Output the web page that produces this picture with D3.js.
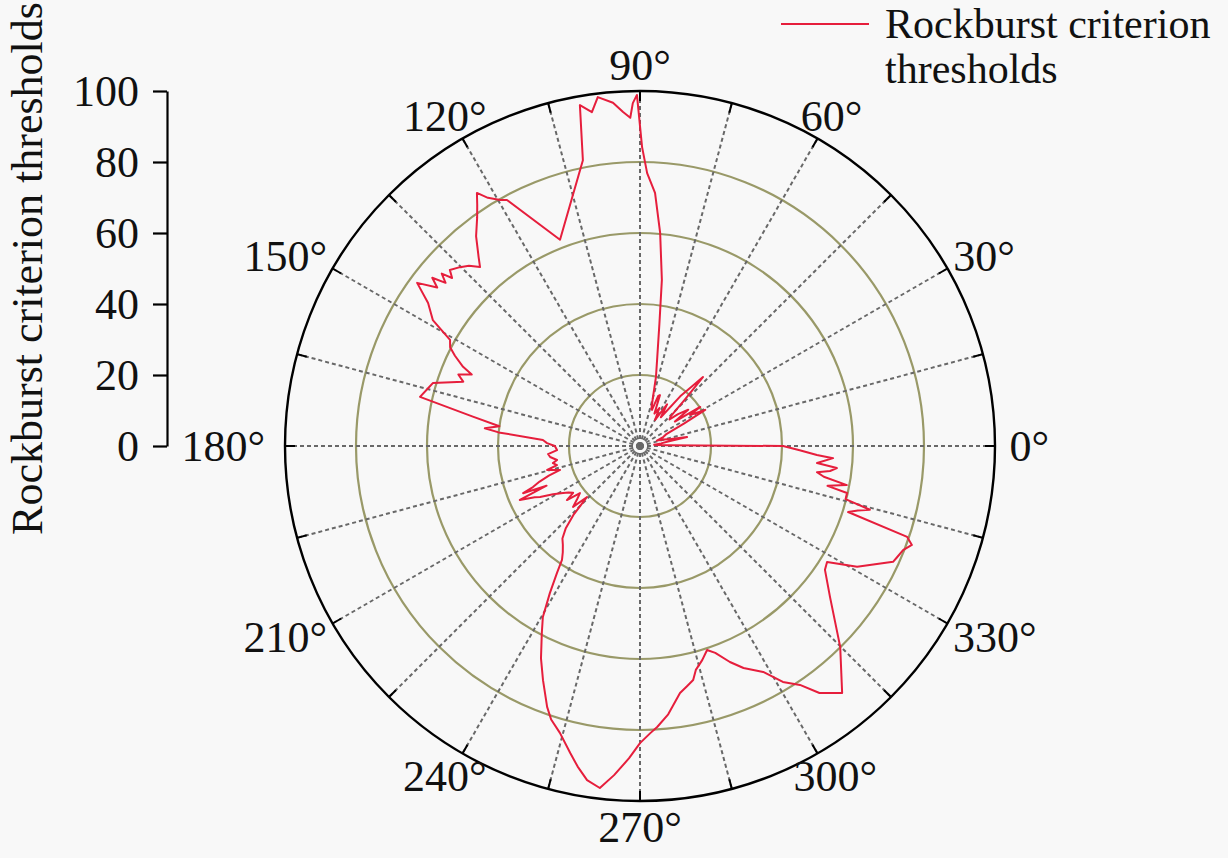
<!DOCTYPE html>
<html>
<head>
<meta charset="utf-8">
<script src="https://cdn.jsdelivr.net/npm/d3@7"></script>
<style>
  html, body { margin: 0; padding: 0; background: #f8f8f8; }
  svg { display: block; font-family: "Liberation Serif", "Times New Roman", serif; }
</style>
</head>
<body>
<svg id="chart" width="1228" height="858"></svg>
<script>
// ---- data (angle in degrees, value = rockburst criterion threshold) ----
const angles = [
  0, 1.5, 3, 5, 7, 9, 10.8, 12.5, 15, 18, 21, 24, 27, 29, 31.8, 33, 35, 37, 40, 42, 44, 46, 47.6, 49, 51, 54, 57, 60, 63, 66, 68.6, 70, 71.6, 73, 75, 77, 79, 81, 82.5,
  84.6, 86.6, 88.5, 89.6, 90.5, 91.2, 91.7, 92.9, 94.5, 96.9, 98.2, 100, 101.3, 111.2, 118.4, 119.6, 121.5, 122.8, 124, 125.5, 128, 130.5, 131.8, 133.5, 135.2,
  137.2, 138.2, 139, 140, 141, 142, 143.8, 146, 148.7, 150.8, 152.5, 154, 155.9, 157, 158.5, 160, 163.1, 165, 167.4, 170, 172, 173.5, 174.5, 176.5, 178.2,
  180, 182.8, 185, 187, 189.6, 191.1, 193, 194.5, 196.7, 198, 199.5, 201, 202, 203, 204.2, 206, 207, 209, 211.4, 213, 215, 216.5, 218.1, 220, 222.3, 223.9,
  226, 228, 230, 232, 234, 235.6, 236.8, 238.5, 240.4, 242.3, 245, 247.5, 250.4, 252, 254.4, 257.2, 259, 261, 263.3, 265.5, 268,
  270, 272, 273.5, 276, 279.2, 281, 282.8, 284, 286.2, 288.2, 290, 292.6, 295, 298.6, 301.2, 303.8, 306, 309.3, 314.9, 321.5, 326.2, 328.2, 330.9,
  335.4, 336.6, 338.4, 340, 341.2, 342.4, 343.5, 344.5, 345.5, 347.2, 348, 349.3, 350.5, 351.6, 352.5, 353.6, 354.5, 356.4, 357.1, 358.5, 360
];
const values = [
  40.3, 8, 5, 4, 6, 8, 13.5, 9, 7, 5, 7, 8, 14, 21, 16.6, 20.2, 12, 17, 14, 11.2, 12, 18, 26.3, 22, 18, 10, 14, 8.5, 12, 10, 15.4, 15, 10.7, 11, 14, 20, 25.5, 35, 47.2,
  60.3, 71.4, 76.9, 84.2, 98.9, 96.6, 92.5, 94.2, 97, 99, 95, 97.5, 82.1, 62.3, 78.8, 79.7, 82, 84.8, 82, 79, 75, 70, 67.6, 70, 71.5,
  73, 71, 74, 71.5, 75.3, 72.5, 77.8, 72, 68.3, 61.3, 60.3, 58, 54.6, 51.5, 55, 53, 61, 62, 63.5, 48, 40, 44, 40, 27.4, 26.2,
  24, 23.4, 26, 25.5, 23.7, 25, 24, 27, 23.5, 27, 30, 32.3, 35.5, 28.6, 37.1, 33, 31.6, 28, 25.4, 24, 23, 25.6, 21.5, 23, 25.5, 20.7,
  27, 31.3, 34, 35.3, 37, 38.9, 42.7, 48.6, 55.4, 59.5, 66, 71.4, 78, 81, 83.9, 88.7, 92, 95.3, 97, 93, 88,
  83.7, 81, 79.3, 76, 70.5, 69, 67.6, 65, 62.8, 60.5, 62, 65.9, 69, 72.5, 77.7, 81, 86, 89.9, 79.9, 68.4, 62.7, 62, 70,
  78.4, 78.9, 79.7, 81.5, 79.5, 61.5, 64, 67.2, 59.8, 59.8, 54, 59.3, 52.5, 50.4, 54, 55.8, 50.1, 54.5, 49.9, 45, 40.3
];
const radialTicks = [0, 20, 40, 60, 80, 100];
const ringValues = [20, 40, 60, 80];
const spokeAngles = d3.range(0, 360, 15);
const angleLabels = d3.range(0, 360, 30);
const seriesName = ["Rockburst criterion", "thresholds"];
const axisTitle = "Rockburst criterion thresholds";

// ---- layout ----
const W = 1228, H = 858;
const cx = 640, cy = 446, R = 355;
const FONT = 44;
const svg = d3.select("#chart");
svg.append("rect").attr("width", W).attr("height", H).attr("fill", "#f8f8f8");

const r = d3.scaleLinear().domain([0, 100]).range([0, R]);
const rad = d => d * Math.PI / 180;

const g = svg.append("g").attr("transform", `translate(${cx},${cy})`);

// rings
g.selectAll("circle.ring").data(ringValues).join("circle")
  .attr("class", "ring")
  .attr("r", d => r(d))
  .attr("fill", "none")
  .attr("stroke", "#999968")
  .attr("stroke-width", 2.2);

// spokes
g.selectAll("line.spoke").data(spokeAngles).join("line")
  .attr("class", "spoke")
  .attr("x1", 0).attr("y1", 0)
  .attr("x2", d => r(100) * Math.cos(rad(d)))
  .attr("y2", d => -r(100) * Math.sin(rad(d)))
  .attr("stroke", "#686868")
  .attr("stroke-width", 2)
  .attr("stroke-dasharray", "4,3");

// outer circle
g.append("circle").attr("r", r(100)).attr("fill", "none")
  .attr("stroke", "#000").attr("stroke-width", 2.4);

// angular ticks (inward)
g.selectAll("line.atick").data(spokeAngles).join("line")
  .attr("class", "atick")
  .attr("x1", d => (r(100) - 10) * Math.cos(rad(d)))
  .attr("y1", d => -(r(100) - 10) * Math.sin(rad(d)))
  .attr("x2", d => r(100) * Math.cos(rad(d)))
  .attr("y2", d => -r(100) * Math.sin(rad(d)))
  .attr("stroke", "#000").attr("stroke-width", 2);

// angle labels
angleLabels.forEach(a => {
  const c = Math.cos(rad(a)), s = Math.sin(rad(a));
  const txt = a + "°";
  const w = txt.length === 2 ? 42 : (txt.length === 3 ? 64 : 88);
  const h = 30;
  const x = (R + 9) * c + (w / 2) * c * Math.abs(c) * 1.2;
  const y = -(R + 11) * s - (h / 2) * s;
  g.append("text")
    .attr("x", x).attr("y", y + 15)
    .attr("text-anchor", "middle")
    .attr("font-size", FONT)
    .attr("fill", "#111")
    .text(txt);
});

// data line
const pts = angles.map((a, i) => [a, values[i]]);
const line = d3.lineRadial()
  .angle(d => Math.PI / 2 - rad(d[0]))
  .radius(d => r(d[1]))
  .curve(d3.curveLinear);
g.append("path").datum(pts)
  .attr("d", line)
  .attr("fill", "none")
  .attr("stroke", "#e61e3c")
  .attr("stroke-width", 2)
  .attr("stroke-linejoin", "round");

// radial axis on the left
const y = d3.scaleLinear().domain([0, 100]).range([cy, cy - R]);
const axisX = 167;
const yAxis = d3.axisLeft(y).tickValues(radialTicks).tickSize(14).tickSizeOuter(0).tickPadding(14);
const ax = svg.append("g").attr("transform", `translate(${axisX},0)`).call(yAxis);
ax.selectAll("path.domain").attr("stroke", "#000").attr("stroke-width", 2.2);
ax.selectAll(".tick line").attr("stroke", "#000").attr("stroke-width", 2.2);
ax.selectAll(".tick text").attr("font-size", FONT).attr("fill", "#111")
  .attr("font-family", "Liberation Serif, Times New Roman, serif");

// axis title
svg.append("text")
  .attr("transform", `translate(42,${(cy + cy - R) / 2}) rotate(-90)`)
  .attr("text-anchor", "middle")
  .attr("font-size", FONT)
  .attr("fill", "#111")
  .text(axisTitle);

// legend
svg.append("line").attr("x1", 781).attr("x2", 869).attr("y1", 24).attr("y2", 24)
  .attr("stroke", "#e61e3c").attr("stroke-width", 2);
svg.selectAll("text.leg").data(seriesName).join("text")
  .attr("class", "leg")
  .attr("x", 885).attr("y", (d, i) => 38 + i * 45)
  .attr("font-size", 42).attr("fill", "#111")
  .text(d => d);
</script>
</body>
</html>
